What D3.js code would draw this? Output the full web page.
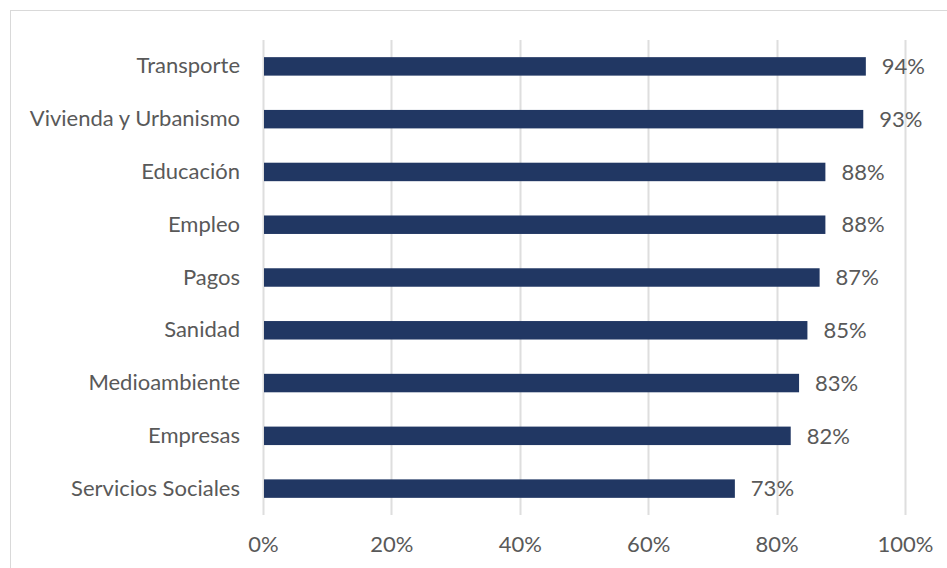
<!DOCTYPE html>
<html>
<head>
<meta charset="utf-8">
<script src="https://cdn.jsdelivr.net/npm/d3@7"></script>
<style>
  html, body { margin: 0; padding: 0; background: #fff; }
  svg { display: block; }
</style>
</head>
<body>
<svg id="chart" width="947" height="568"></svg>
<script>
// Share of services per area (percent)
const categories = ["Transporte", "Vivienda y Urbanismo", "Educación", "Empleo", "Pagos",
                    "Sanidad", "Medioambiente", "Empresas", "Servicios Sociales"];
const values = [93.9, 93.5, 87.6, 87.6, 86.7, 84.8, 83.5, 82.2, 73.5];
const valueLabels = ["94%", "93%", "88%", "88%", "87%", "85%", "83%", "82%", "73%"];
const xTicks = [0, 20, 40, 60, 80, 100];

const W = 947, H = 568;
const margin = { top: 40, right: 42, bottom: 53, left: 263 };
const innerW = W - margin.left - margin.right;
const innerH = H - margin.top - margin.bottom;

const FONT = "Lato, 'Open Sans', sans-serif";
const FONT_SIZE = "22px";
const TEXT = "#595959";

const svg = d3.select("#chart");

// chart frame (top and left edges fall inside the view)
svg.append("rect")
  .attr("x", 10.5).attr("y", 10.5)
  .attr("width", W + 20).attr("height", H + 20)
  .attr("fill", "none").attr("stroke", "#d9d9d9").attr("stroke-width", 1);

const g = svg.append("g").attr("transform", `translate(${margin.left},${margin.top})`);

const x = d3.scaleLinear().domain([0, 100]).range([0, innerW]);
const y = d3.scaleBand().domain(categories).range([0, innerH]).paddingInner(0.65).paddingOuter(0.325);

// vertical gridlines
g.append("g")
  .selectAll("line")
  .data(xTicks)
  .join("line")
  .attr("x1", d => Math.round(x(d)) + 0.5)
  .attr("x2", d => Math.round(x(d)) + 0.5)
  .attr("y1", 0).attr("y2", innerH)
  .attr("stroke", "#dedede").attr("stroke-width", 2);

// x-axis tick labels
const xAxis = d3.axisBottom(x).tickValues(xTicks).tickFormat(d => d + "%").tickSize(0).tickPadding(21);
const xg = g.append("g").attr("transform", `translate(0,${innerH})`).call(xAxis);
xg.select(".domain").remove();
xg.selectAll("text").attr("fill", TEXT).style("font-family", FONT).style("font-size", FONT_SIZE);

// category labels
const yAxis = d3.axisLeft(y).tickSize(0).tickPadding(23);
const yg = g.append("g").call(yAxis);
yg.select(".domain").remove();
yg.selectAll("text").attr("fill", TEXT).style("font-family", FONT).style("font-size", FONT_SIZE);

// bars
g.append("g")
  .selectAll("rect")
  .data(categories)
  .join("rect")
  .attr("x", x(0) + 1)
  .attr("y", d => y(d))
  .attr("width", (d, i) => x(values[i]) - x(0) - 1)
  .attr("height", y.bandwidth())
  .attr("fill", "#213763");

// value labels
g.append("g")
  .selectAll("text")
  .data(categories)
  .join("text")
  .attr("x", (d, i) => x(values[i]) + 16)
  .attr("y", d => y(d) + y.bandwidth() / 2)
  .attr("dy", "0.35em")
  .attr("fill", TEXT)
  .style("font-family", FONT)
  .style("font-size", FONT_SIZE)
  .text((d, i) => valueLabels[i]);
</script>
</body>
</html>
